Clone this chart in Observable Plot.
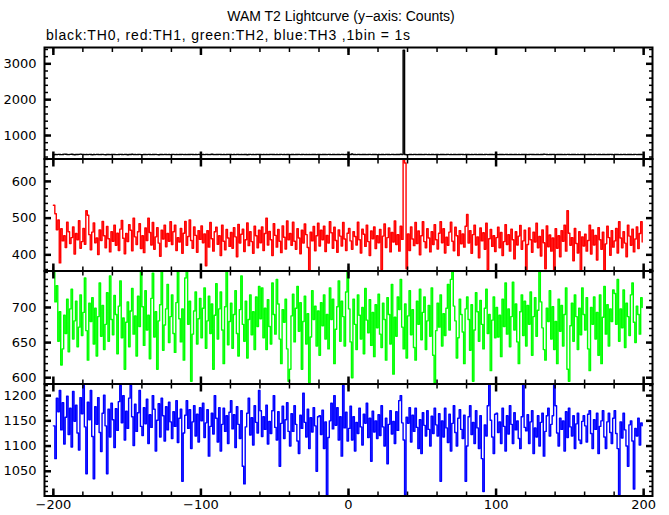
<!DOCTYPE html>
<html><head><meta charset="utf-8">
<script src="https://cdn.jsdelivr.net/npm/d3@7"></script>
<script src="https://cdn.jsdelivr.net/npm/@observablehq/plot@0.6"></script>
<style>
body{margin:0;background:#fff;}
#wrap{position:relative;width:669px;height:515px;overflow:hidden;background:#fff;}
#wrap svg{position:absolute;left:0;top:0;}
.ttl{position:absolute;font-family:"Liberation Sans",Arial,sans-serif;font-size:14px;line-height:16px;color:#000;white-space:nowrap;}
</style></head><body>
<div id="wrap">
<div class="ttl" style="left:0;width:682px;text-align:center;top:8px;">WAM T2 Lightcurve (y−axis: Counts)</div>
<div class="ttl" style="left:46px;top:27px;letter-spacing:0.8px;">black:TH0, red:TH1, green:TH2, blue:TH3 ,1bin = 1s</div>
</div>
<script>
// bin start times (1 bin = 1 s)
const binStart = -200;
const xDomain = [-206, 206];
const xMajor = [-200, -100, 0, 100, 200];
const xMajorLabels = ["−200", "−100", "0", "100", "200"];

// TH0 (black)
const th0 = [
462,470,468,474,471,466,472,480,476,470,468,473,478,470,465,472,469,475,480,473,
470,466,472,468,475,470,464,471,468,473,469,466,470,474,468,463,470,472,467,471,
474,470,468,466,471,475,470,468,473,469,465,471,470,476,468,472,466,470,473,468,
466,472,470,468,474,470,466,471,469,473,468,465,470,472,467,474,470,468,471,466,
470,473,468,471,466,472,470,475,468,470,466,472,469,473,470,467,471,468,474,470,
468,471,466,473,470,468,472,476,470,467,471,469,474,470,466,472,468,471,475,470,
472,468,470,466,474,470,468,472,467,471,469,465,470,473,468,471,466,470,474,469,
470,467,472,468,471,466,470,474,469,472,468,470,466,471,473,468,470,467,472,470,
468,472,470,466,471,469,473,468,470,474,467,471,468,470,466,472,469,471,468,473,
470,466,472,469,471,468,474,470,467,471,469,466,472,470,468,473,470,467,471,469,
472,470,485,468,471,466,473,470,468,472,469,471,467,470,474,468,471,469,470,466,
471,468,472,470,466,473,469,471,468,474,470,467,472,469,471,476,468,3380,470,465,
468,472,470,466,474,470,468,472,469,471,467,470,473,468,471,466,472,470,468,471,
470,467,472,469,471,468,470,474,468,471,466,472,470,468,471,469,473,470,467,471,
469,472,468,470,466,473,470,468,471,469,472,466,470,474,468,471,469,470,467,472,
470,468,472,469,471,466,473,470,468,471,469,467,472,470,468,471,466,472,470,469,
471,468,470,473,469,471,466,470,472,468,471,469,480,474,470,468,471,469,473,470,
468,471,469,472,470,466,471,468,473,470,467,471,469,472,468,470,466,471,469,472,
470,468,472,469,471,467,470,473,468,471,469,466,472,470,468,471,469,473,470,467,
471,469,472,468,470,466,473,470,468,471,469,472,467,470,474,468,471,469,470,466];

// TH1 (red)
const th1 = [
535,512,468,495,378,471,438,452,420,489,463,431,447,476,402,458,441,493,418,436,
472,429,520,508,455,414,462,487,433,446,401,468,439,491,452,419,477,444,408,463,
437,481,426,459,412,470,494,445,403,458,436,482,467,411,500,449,428,463,485,417,
452,406,473,439,500,461,427,488,415,449,474,432,396,467,443,481,422,458,437,490,
428,463,481,412,447,435,472,404,459,491,426,450,495,439,418,476,453,407,466,442,
479,433,457,370,466,421,488,444,410,463,475,429,452,398,481,437,414,469,446,423,
461,418,474,449,395,483,432,456,470,409,441,487,425,463,436,404,478,452,419,467,
433,476,412,458,500,427,464,441,398,485,453,421,469,437,406,479,448,416,492,441,
458,426,489,437,415,471,446,403,467,432,484,455,420,355,462,438,477,411,452,486,
424,467,441,478,409,453,432,490,460,418,475,439,407,468,451,424,488,443,412,459,
472,438,415,463,450,427,489,441,405,470,456,423,481,436,398,465,444,476,417,452,
433,469,360,451,484,420,447,473,408,461,435,492,428,455,410,478,442,660,650,362,
457,412,476,443,425,488,431,465,400,452,490,436,419,471,446,408,463,428,482,441,
416,459,490,433,471,405,448,426,462,489,437,411,475,452,398,466,430,457,421,478,
510,432,466,404,455,481,427,449,392,473,438,460,415,486,360,444,469,423,452,409,
447,475,419,461,398,436,482,428,455,410,470,441,389,463,427,451,480,415,438,467,
360,428,473,441,407,462,435,486,419,450,397,468,433,362,479,422,454,410,446,355,
471,418,452,395,466,437,481,410,520,459,426,447,384,472,431,405,463,345,449,424,
456,410,439,481,402,468,427,453,386,474,441,415,462,340,430,478,447,399,466,421,
438,472,405,490,446,419,463,432,395,481,451,426,470,408,443,476,417,458,490,435];

// TH2 (green)
const th2 = [
750,708,731,652,694,618,641,689,663,712,637,698,726,655,681,709,644,672,718,660,
693,742,667,625,706,680,714,648,699,631,687,735,659,703,640,676,721,652,745,683,
661,717,690,634,702,738,657,685,612,679,708,644,695,727,662,688,631,716,673,755,
701,646,724,668,689,627,713,749,658,694,612,681,704,755,639,675,698,733,650,687,
718,663,636,707,755,684,651,698,625,742,755,676,709,595,662,695,722,648,684,713,
657,699,728,642,681,716,663,705,612,689,734,655,698,722,668,620,701,755,647,680,
706,642,690,724,663,631,697,745,676,652,709,628,683,718,661,694,640,715,673,730,
684,728,657,699,640,711,673,648,735,690,662,740,705,655,620,697,679,712,641,595,
612,688,719,651,699,730,666,707,612,680,716,648,691,593,658,724,683,702,645,695,
632,707,674,718,655,690,641,728,683,712,620,669,701,738,652,709,687,645,722,755,
698,651,600,712,676,640,718,689,655,700,634,727,682,664,711,646,693,630,704,671,
719,662,643,706,683,625,714,690,648,733,605,686,659,715,697,740,672,641,705,628,
688,724,661,697,643,625,709,676,726,654,693,715,640,681,703,659,728,632,593,667,
706,672,718,645,691,660,699,733,668,740,755,702,681,628,657,712,690,665,620,698,
715,683,639,704,595,668,721,694,652,710,676,641,699,726,663,690,610,682,715,657,
700,658,689,630,712,673,735,662,698,644,687,736,668,705,651,620,694,718,660,709,
645,703,676,722,632,687,714,659,696,755,708,671,640,625,699,680,724,655,701,640,
680,620,712,666,703,645,690,728,612,595,674,706,652,718,687,640,699,661,728,690,
668,714,641,610,700,676,715,655,693,632,718,620,686,730,662,704,645,698,680,725,
720,676,740,652,698,671,725,643,706,687,660,718,735,679,650,702,690,662,714,700];

// TH3 (blue)
const th3 = [
1140,1075,1195,1168,1210,1132,1186,1104,1157,1199,1123,1175,1098,1208,1149,1181,1126,1092,1196,1164,
1220,1138,1045,1187,1152,1210,1119,1035,1178,1143,1196,1127,1089,1165,1201,1140,1045,1173,1118,1185,
1152,1097,1174,1131,1188,1220,1146,1200,1112,1169,1135,1195,1220,1158,1101,1183,1129,1166,1210,1139,
1121,1176,1144,1193,1105,1162,1137,1200,1173,1090,1151,1184,1118,1195,1160,1110,1178,1132,1187,1148,
1115,1168,1139,1190,1107,1155,1173,1030,1126,1161,1190,1135,1172,1095,1148,1180,1120,1163,1108,1176,
1150,1185,1117,1146,1172,1080,1139,1165,1124,1200,1155,1108,1176,1090,1143,1175,1129,1160,1105,1167,
1190,1134,1162,1097,1178,1143,1115,1170,1060,1025,1138,1165,1195,1122,1156,1102,1180,1147,1126,1210,
1170,1119,1158,1133,1181,1104,1149,1125,1170,1200,1137,1112,1168,1060,1145,1179,1115,1152,1186,1129,
1100,1164,1129,1180,1143,1110,1085,1161,1135,1205,1147,1118,1173,1095,1156,1128,1176,1140,1050,1158,
1160,1123,1171,1095,1148,1003,1117,1150,1185,1134,1200,1141,1176,1112,1158,1080,1220,1136,1167,1110,
1135,1179,1112,1158,1090,1147,1125,1175,1138,1102,1163,1145,1185,1117,1155,1070,1169,1128,1150,1115,
1162,1121,1180,1138,1100,1155,1065,1143,1170,1124,1149,1105,1168,1131,1190,1200,1146,1112,1003,1157,
1145,1176,1108,1161,1129,1175,1137,1095,1152,1085,1166,1141,1120,1170,1133,1100,1159,1125,1175,1142,
1120,1164,1030,1150,1118,1175,1136,1107,1163,1090,1145,1180,1127,1100,1155,1172,1133,1115,1161,1030,
1100,1158,1180,1123,1147,1105,1170,1136,1095,1160,1075,1010,1142,1120,1180,1224,1151,1118,1085,1163,
1165,1127,1148,1105,1175,1139,1090,1160,1124,1180,1143,1105,1166,1132,1150,1115,1095,1158,1224,1137,
1130,1162,1105,1148,1170,1085,1136,1118,1160,1100,1147,1165,1080,1129,1160,1175,1120,1143,1160,1224,
1180,1126,1100,1155,1133,1150,1090,1168,1117,1175,1138,1120,1160,1095,1144,1165,1112,1105,1149,1160,
1140,1108,1163,1170,1125,1095,1152,1133,1165,1085,1139,1150,1170,1118,1095,1148,1165,1127,1105,1155,
1170,1125,1095,1003,1148,1116,1165,1132,1100,1060,1142,1150,1110,1015,1135,1120,1155,1102,1146,1140];

// y tick values per panel
const th0Major = [1000, 2000, 3000];
const th1Major = [400, 500, 600];
const th2Major = [600, 650, 700];
const th3Major = [1050, 1100, 1150, 1200];

const panels = [
  {values: th0, color: "#000000", domain: [345, 3455], top: 47, bottom: 158.5, major: th0Major, minor: d3.range(400, 3455, 200), xlabels: false},
  {values: th1, color: "#ff0000", domain: [356, 661], top: 158.5, bottom: 270.5, major: th1Major, minor: d3.range(360, 661, 20), xlabels: false},
  {values: th2, color: "#00ff00", domain: [591, 752], top: 270.5, bottom: 383.5, major: th2Major, minor: d3.range(600, 752, 10), xlabels: false},
  {values: th3, color: "#0000ff", domain: [1001, 1223], top: 383.5, bottom: 495.5, major: th3Major, minor: d3.range(1010, 1223, 10), xlabels: true}
];

const xMinor = d3.range(-200, 201, 20);
const W = 669, H = 515;
const wrap = document.getElementById("wrap");

for (const p of panels) {
  const data = p.values.map((v, i) => ({t: binStart + i, v}));
  const common = {label: null, stroke: "black"};
  const marks = [
    Plot.line(data, {x: "t", y: "v", curve: "step-after", stroke: p.color, strokeWidth: 1.4, clip: true}),
    Plot.axisY({...common, anchor: "left", ticks: p.minor, tickSize: -4, strokeWidth: 1.5, fill: "none"}),
    Plot.axisY({...common, anchor: "right", ticks: p.minor, tickSize: -4, strokeWidth: 1.5, fill: "none"}),
    Plot.axisY({...common, anchor: "left", ticks: p.major, tickSize: -7, strokeWidth: 2.5, tickPadding: 15, fill: "black", tickFormat: d => String(d)}),
    Plot.axisY({...common, anchor: "right", ticks: p.major, tickSize: -7, strokeWidth: 2.5, fill: "none"}),
    Plot.axisX({...common, anchor: "top", ticks: xMinor, tickSize: -4, strokeWidth: 1.5, fill: "none"}),
    Plot.axisX({...common, anchor: "bottom", ticks: xMinor, tickSize: -4, strokeWidth: 1.5, fill: "none"}),
    Plot.axisX({...common, anchor: "top", ticks: xMajor, tickSize: -7, strokeWidth: 2.5, fill: "none"}),
    p.xlabels
      ? Plot.axisX({...common, anchor: "bottom", ticks: xMajor, tickSize: -7, strokeWidth: 2.5, tickPadding: 11, fill: "black", tickFormat: d => xMajorLabels[xMajor.indexOf(d)]})
      : Plot.axisX({...common, anchor: "bottom", ticks: xMajor, tickSize: -7, strokeWidth: 2.5, fill: "none"}),
    Plot.frame({stroke: "black", strokeWidth: 2})
  ];
  const svg = Plot.plot({
    width: W, height: H,
    marginLeft: 44, marginRight: 17, marginTop: p.top, marginBottom: H - p.bottom,
    x: {domain: xDomain, label: null},
    y: {domain: p.domain, label: null},
    style: {background: "transparent", fontFamily: "'DejaVu Sans', sans-serif", fontSize: "13px", color: "black", overflow: "visible"},
    marks
  });
  wrap.appendChild(svg);
}
</script>
</body></html>
